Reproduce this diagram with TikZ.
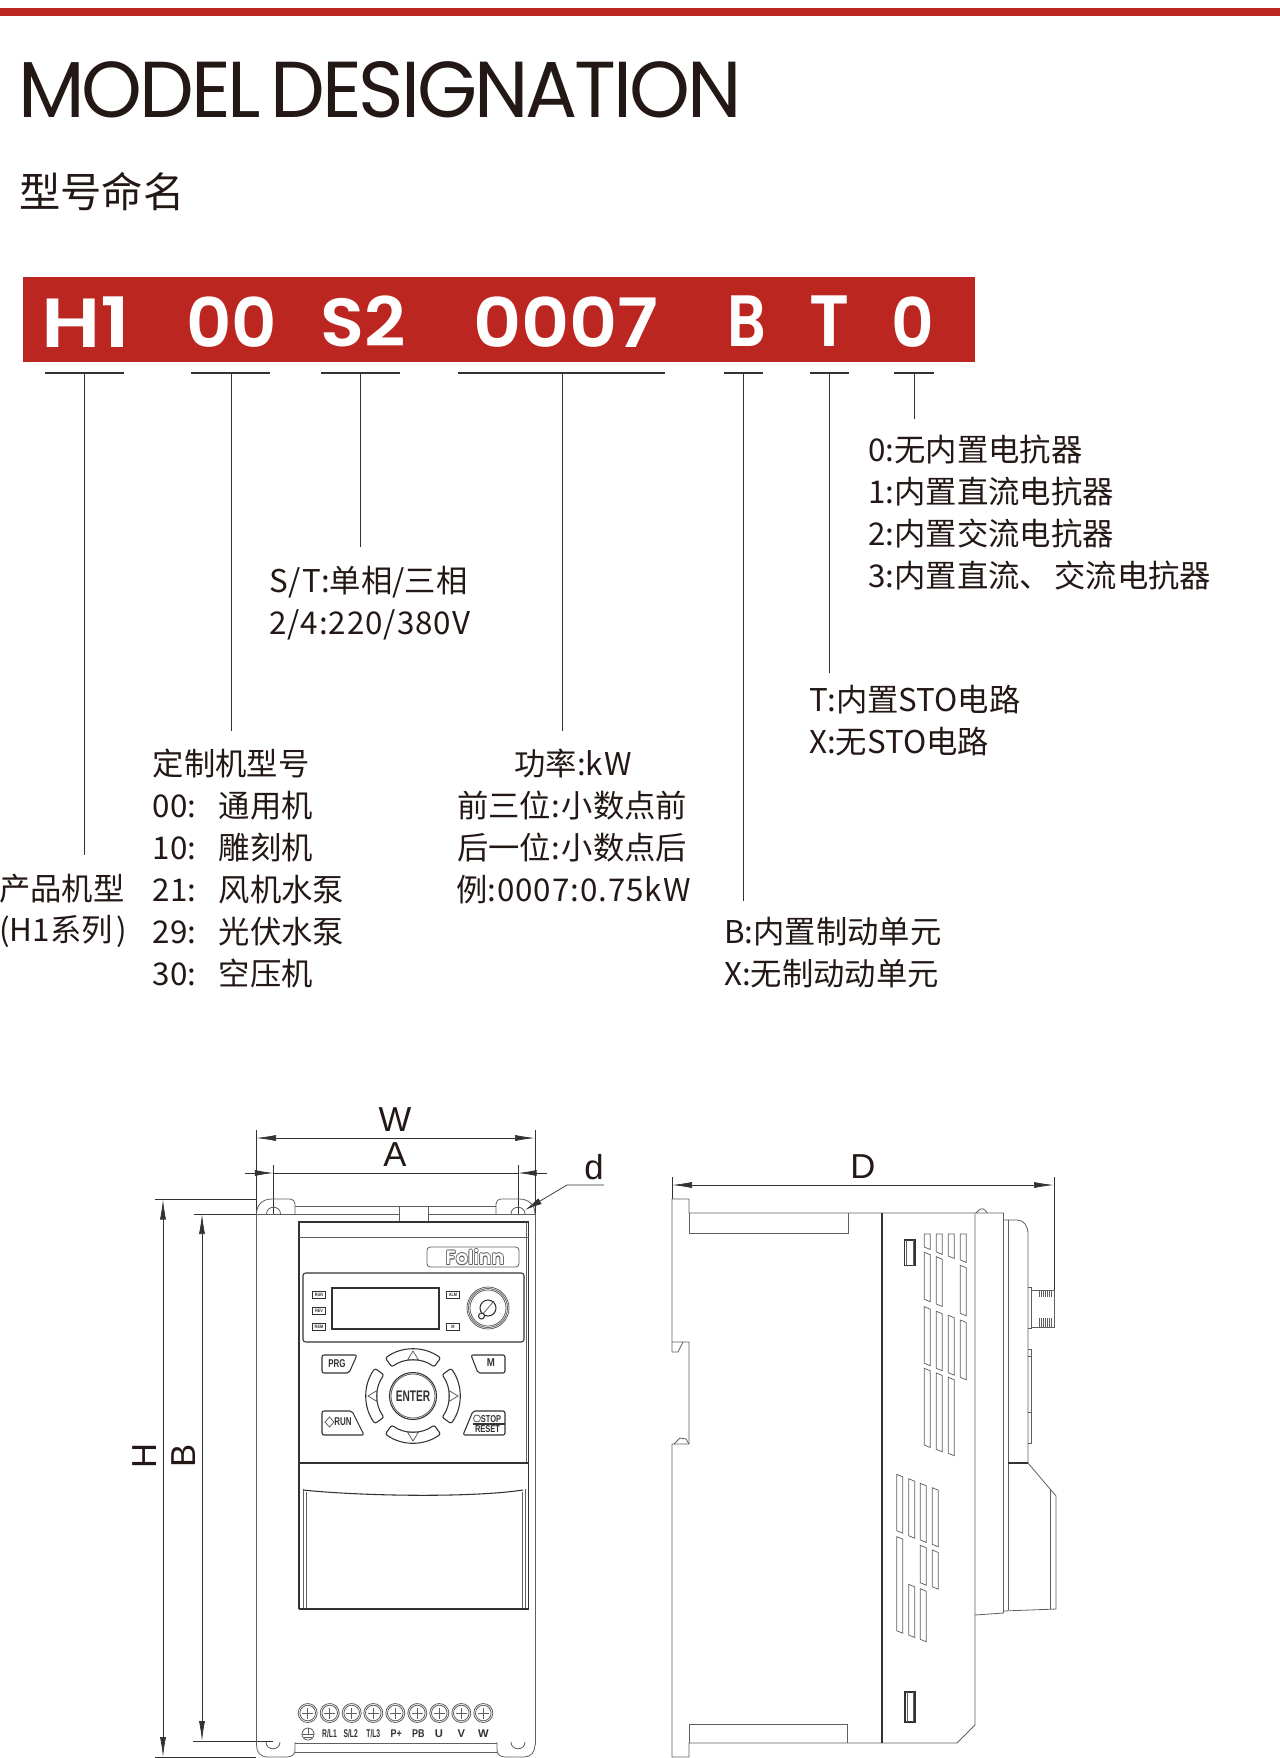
\documentclass[tikz,border=0pt]{standalone}
\usepackage{fontspec}
\usepackage{graphicx}
\setmainfont{Noto Sans CJK SC}
\newfontfamily\lat[LetterSpace=3]{Noto Sans CJK SC}
\newfontfamily\titlefont[LetterSpace=-4]{Poppins}
\newfontfamily\boldfont[UprightFont=* SemiBold]{Poppins}
\newfontfamily\dimfont{Liberation Sans}
\usetikzlibrary{arrows.meta}
\definecolor{brandred}{RGB}{187,38,32}
\definecolor{inkc}{RGB}{35,24,21}
\definecolor{linec}{RGB}{95,95,95}
\definecolor{darkc}{RGB}{50,50,50}
\newcommand{\nar}[2][0.7]{\scalebox{#1}[1]{#2}}
\tikzset{
  lbl/.style={anchor=base west,inner sep=0pt,font=\fontsize{23.5pt}{28pt}\selectfont,text=inkc},
  lblc/.style={anchor=base,inner sep=0pt,font=\fontsize{23.5pt}{28pt}\selectfont,text=inkc},
  redtxt/.style={anchor=base west,inner sep=0pt,text=white},
  leader/.style={draw=darkc,line width=0.75pt},
  under/.style={draw=darkc,line width=1.1pt},
  dimline/.style={draw=darkc,line width=0.55pt},
  dimarrow/.style={dimline,{Latex[length=15pt,width=4.5pt]}-{Latex[length=15pt,width=4.5pt]}},
  dimtxt/.style={inner sep=0pt,font=\dimfont\fontsize{26pt}{30pt}\selectfont,text=inkc},
  thin/.style={draw=linec,line width=0.6pt},
  med/.style={draw=darkc,line width=0.8pt},
  slot/.style={draw=linec,line width=0.55pt},
  tiny/.style={inner sep=0pt,font=\dimfont\bfseries\fontsize{8.4pt}{9pt}\selectfont,text=darkc},
  keytxt/.style={inner sep=0pt,font=\dimfont\bfseries\fontsize{8.5pt}{9pt}\selectfont,text=darkc},
  smalltxt/.style={inner sep=0pt,font=\dimfont\bfseries\fontsize{7.5pt}{8pt}\selectfont,text=darkc},
  ledbox/.style={draw=darkc,line width=0.6pt,minimum width=9.5pt,minimum height=4.8pt,inner sep=0pt,font=\dimfont\bfseries\fontsize{3.6pt}{4pt}\selectfont,text=darkc},
}
\begin{document}
\begin{tikzpicture}[x=0.75pt,y=-0.75pt]
\useasboundingbox (0,0) rectangle (1280,1758);
% top bar and headings
\fill[brandred] (0,8) rectangle (1280,16);
\node[anchor=base west,inner sep=0pt,text=inkc] (title) at (18,118) {\resizebox{542pt}{42pt}{\titlefont MODEL\hspace{.12em}DESIGNATION}};
\node[anchor=base west,inner sep=0pt,text=inkc,font=\fontsize{31pt}{34pt}\selectfont] (subtitle) at (19,208) {型号命名};
% red band
\node[fill=brandred,inner sep=0pt,anchor=north west,minimum width=714pt,minimum height=64pt] (band) at (22.5,276.5) {};
\node[redtxt] (c1) at (41,347) {\resizebox{67pt}{38pt}{\boldfont H1}};
\node[redtxt] (c2) at (186,347) {\resizebox{68pt}{38pt}{\boldfont 00}};
\node[redtxt] (c3) at (320,347) {\resizebox{64pt}{38pt}{\boldfont S2}};
\node[redtxt] (c4) at (473,347) {\resizebox{139pt}{38pt}{\boldfont 0007}};
\node[redtxt] (c5) at (727,347) {\resizebox{29pt}{38pt}{\boldfont B}};
\node[redtxt] (c6) at (809,347) {\resizebox{30pt}{38pt}{\boldfont T}};
\node[redtxt] (c7) at (891,347) {\resizebox{32pt}{38pt}{\boldfont 0}};
% brackets
\coordinate (u1a) at (45,373); \coordinate (u1b) at (124,373); \coordinate (u1m) at (84.5,373); \coordinate (u1e) at (84.5,855);
\coordinate (u2a) at (191,373); \coordinate (u2b) at (270,373); \coordinate (u2m) at (231,373); \coordinate (u2e) at (231,731);
\coordinate (u3a) at (321,373); \coordinate (u3b) at (400,373); \coordinate (u3m) at (360.5,373); \coordinate (u3e) at (360.5,547);
\coordinate (u4a) at (458,373); \coordinate (u4b) at (665,373); \coordinate (u4m) at (562,373); \coordinate (u4e) at (562,731);
\coordinate (u5a) at (724,373); \coordinate (u5b) at (763,373); \coordinate (u5m) at (743,373); \coordinate (u5e) at (743,901);
\coordinate (u6a) at (810,373); \coordinate (u6b) at (849,373); \coordinate (u6m) at (829,373); \coordinate (u6e) at (829,673);
\coordinate (u7a) at (894,373); \coordinate (u7b) at (934,373); \coordinate (u7m) at (914,373); \coordinate (u7e) at (914,419);
\foreach \n in {1,...,7}{
  \draw[under] (u\n a) -- (u\n b);
  \draw[leader] (u\n m) -- (u\n e);
}
% labels
\node[lbl] (a1) at (868,461) {0:无内置电抗器};
\node[lbl] (a2) at (868,503) {1:内置直流电抗器};
\node[lbl] (a3) at (868,545) {2:内置交流电抗器};
\node[lbl] (a4) at (868,587) {3:内置直流、\hspace{2.5pt}交流电抗器};
\node[lbl] (b1) at (269,592) {{\lat S/T:}单相{\lat /}三相};
\node[lbl] (b2) at (269,634) {{\lat 2/4:220/380V}};
\node[lbl] (d1) at (809,711) {T:内置STO电路};
\node[lbl] (d2) at (809,753) {X:无STO电路};
\node[lbl] (e0) at (152.5,775) {定制机型号};
\node[lbl] (e1) at (152.5,817) {00:};
\node[lbl] (e2) at (152.5,859) {10:};
\node[lbl] (e3) at (152.5,901) {21:};
\node[lbl] (e4) at (152.5,943) {29:};
\node[lbl] (e5) at (152.5,985) {30:};
\node[lbl] (f1) at (218.5,817) {通用机};
\node[lbl] (f2) at (218.5,859) {雕刻机};
\node[lbl] (f3) at (218.5,901) {风机水泵};
\node[lbl] (f4) at (218.5,943) {光伏水泵};
\node[lbl] (f5) at (218.5,985) {空压机};
\node[lblc] (g0) at (573,775) {功率:{\lat kW}};
\node[lbl] (g1) at (457,817) {前三位{\lat :}\hspace{1.5pt}小数点前};
\node[lbl] (g2) at (457,859) {后一位{\lat :}\hspace{1.5pt}小数点后};
\node[lbl] (g3) at (456,901) {例{\lat :0007:0.75kW}};
\node[lbl] (h1) at (724,943) {B:内置制动单元};
\node[lbl] (h2) at (724,985) {X:无制动动单元};
\node[lbl] (i1) at (-1,900) {产品机型};
\node[lbl] (i2) at (-1,941) {(H1系列\hspace{3pt})};
% dimension lines, front
\coordinate (wl) at (256,1138); \coordinate (wr) at (535,1138);
\coordinate (wlb) at (256,1214); \coordinate (wrb) at (535,1214);
\coordinate (wlt) at (256,1130); \coordinate (wrt) at (535,1130);
\draw[dimline] (wlt) -- (wlb); \draw[dimline] (wrt) -- (wrb);
\draw[dimarrow] (wl) -- (wr);
\node[dimtxt] (wtxt) at (395,1120) {W};
\coordinate (al) at (273.5,1173); \coordinate (ar) at (518,1173);
\coordinate (alo) at (245,1173); \coordinate (aro) at (547,1173);
\coordinate (alt) at (273.5,1165); \coordinate (art) at (518,1165);
\coordinate (alb) at (273.5,1214); \coordinate (arb) at (518,1214);
\draw[dimline] (alt) -- (alb); \draw[dimline] (art) -- (arb);
\draw[dimline] (al) -- (ar);
\draw[dimline,-{Latex[length=14pt,width=4.5pt]}] (alo) -- (al);
\draw[dimline,-{Latex[length=14pt,width=4.5pt]}] (aro) -- (ar);
\node[dimtxt] (atxt) at (395,1155) {A};
\node[dimtxt] (dtxt) at (594,1167) {d};
\coordinate (d1p) at (604,1185); \coordinate (d2p) at (567,1185); \coordinate (d3p) at (525,1210);
\draw[dimline,-{Latex[length=13pt,width=5pt]}] (d1p) -- (d2p) -- (d3p);
\coordinate (ht) at (163,1199.5); \coordinate (hb) at (163,1757);
\coordinate (htl) at (155,1199); \coordinate (htr) at (256,1199);
\coordinate (hbl) at (155,1757); \coordinate (hbr) at (256,1757);
\draw[dimline] (htl) -- (htr); \draw[dimline] (hbl) -- (hbr);
\draw[dimarrow] (ht) -- (hb);
\node[dimtxt,rotate=90] (htxt) at (145,1456) {H};
\coordinate (bt) at (202,1214); \coordinate (bb) at (202,1741);
\coordinate (btl) at (194,1214); \coordinate (btr) at (256,1214);
\coordinate (bbl) at (193,1741); \coordinate (bbr) at (273,1741);
\draw[dimline] (btl) -- (btr); \draw[dimline] (bbl) -- (bbr);
\draw[dimarrow] (bt) -- (bb);
\node[dimtxt,rotate=90] (btxt) at (184,1456) {B};
% front body: top feet and tab
\draw[thin] (256.5,1214) .. controls (256.5,1205) and (262,1199) .. (272,1199) -- (290,1199) .. controls (293,1199) and (295,1201) .. (295,1204) -- (295,1214);
\draw[thin] (535,1214) .. controls (535,1205) and (529,1199) .. (519,1199) -- (501,1199) .. controls (498,1199) and (496,1201) .. (496,1204) -- (496,1214);
\draw[thin] (256.5,1214) -- (399,1214); \draw[thin] (428,1214) -- (535,1214);
\draw[thin] (295,1206) -- (399,1206) (428,1206) -- (496,1206);
\draw[thin] (399,1206) -- (428,1206) (399,1206) -- (399,1222) (428,1206) -- (428,1222);
\draw[thin] (266.5,1214) .. controls (266.5,1205) and (280.5,1205) .. (280.5,1214);
\draw[thin] (511,1214) .. controls (511,1205) and (525,1205) .. (525,1214);
% sides and bottom feet
\draw[thin] (256.5,1214) -- (256.5,1745);
\draw[thin] (535,1214) -- (535,1745);
\draw[thin] (256.5,1745) .. controls (256.5,1752) and (260,1757) .. (268,1757) -- (287,1757) .. controls (292,1757) and (295,1754) .. (295,1750) -- (295,1742);
\draw[thin] (535,1745) .. controls (535,1752) and (531,1757) .. (524,1757) -- (505,1757) .. controls (500,1757) and (497,1754) .. (497,1750) -- (497,1742);
\draw[thin] (266,1742) .. controls (266,1751) and (280,1751) .. (280,1742);
\draw[thin] (511,1742) .. controls (511,1751) and (525,1751) .. (525,1742);
\draw[thin] (295,1743) -- (497,1743) (295,1752) -- (497,1752);
% panel
\draw[med] (299,1609) -- (299,1222) -- (528.5,1222) -- (528.5,1609);
\draw[thin] (526.5,1222) -- (526.5,1463);
\draw[thin] (299,1237) -- (528.5,1237);
\draw[med] (299,1463) -- (528.5,1463);
\draw[med] (303,1490) .. controls (360,1496) and (470,1498) .. (523,1490);
\draw[thin] (303,1489) -- (303,1609) (306,1492) -- (306,1609) (522,1492) -- (522,1609) (525,1489) -- (525,1609);
\draw[darkc,line width=1.5pt] (299,1609) -- (528.5,1609);
\draw[thin,rounded corners=2.5pt] (427,1247) rectangle (519,1267);
\foreach \i/\dx/\dy in {a/-0.7/0,b/0.7/0,c/0/-0.7,d/0/0.7,e/-0.5/-0.5,f/0.5/-0.5,g/-0.5/0.5,h/0.5/0.5}{
  \node[inner sep=0pt,font=\boldfont\fontsize{14.5pt}{16pt}\selectfont,text=linec] (logo\i) at (475+\dx,1257+\dy) {Folinn};
}
\node[inner sep=0pt,font=\boldfont\fontsize{14.5pt}{16pt}\selectfont,text=white] (logo) at (475,1257) {Folinn};
\draw[med,rounded corners=2pt] (303,1273) rectangle (524,1342);
\draw[med] (332,1288) rectangle (439,1329);
\node[ledbox] (l1) at (319,1295) {\nar[0.8]{RUN}};
\node[ledbox] (l2) at (319,1311) {\nar[0.8]{REV}};
\node[ledbox] (l3) at (319,1327) {\nar[0.8]{REM}};
\node[ledbox] (l4) at (453,1295) {\nar[0.8]{ALM}};
\node[ledbox] (l5) at (453,1327) {\nar[0.8]{M}};
\foreach \r in {21,19.5,18}{\draw[thin] (488,1308) circle[radius=\r];}
\draw[med] (488,1308) circle[radius=8];
\draw[thin] (482,1315) -- (494,1301);
\draw[med,fill=white] (481.5,1316) circle[radius=3];
% keys
\draw[med,rounded corners=1.5pt] (322,1355) -- (357,1355) -- (349,1373) -- (322,1373) -- cycle;
\draw[med,rounded corners=1.5pt] (471,1355) -- (505,1355) -- (505,1373) -- (478,1373) -- cycle;
\draw[med,rounded corners=1.5pt] (322,1411) -- (352,1411) -- (364,1435) -- (322,1435) -- cycle;
\draw[med,rounded corners=1.5pt] (473,1411) -- (505,1411) -- (505,1435) -- (463,1435) -- cycle;
\node[keytxt] (kprg) at (337,1364) {\nar{PRG}};
\node[keytxt] (km) at (491,1363) {\nar[0.85]{M}};
\node[keytxt] (krun) at (343,1422) {\nar{RUN}};
\draw[thin] (325,1422) -- (329.5,1417) -- (334,1422) -- (329.5,1427) -- cycle;
\node[smalltxt] (kstop) at (491,1419) {\nar[0.75]{STOP}};
\node[smalltxt] (kreset) at (487.5,1429) {\nar[0.75]{RESET}};
\draw[med] (473,1424) -- (505,1424);
\draw[thin] (477,1418.5) circle[radius=3.5];
\draw[med] (413,1396) circle[radius=23.5];
\draw[thin] (413,1396) circle[radius=22];
\node[keytxt,font=\dimfont\bfseries\fontsize{11.5pt}{13pt}\selectfont] (kenter) at (413,1396) {\nar[0.66]{ENTER}};
\foreach \ang in {90,180,270,0}{
  \draw[med,rounded corners=1.5pt]
    ({413+47*cos(\ang-36)},{1396-47*sin(\ang-36)})
    arc[start angle=-(\ang-36),end angle=-(\ang+36),radius=47]
    -- ({413+36*cos(\ang+36)},{1396-36*sin(\ang+36)})
    arc[start angle=-(\ang+36),end angle=-(\ang-36),radius=36] -- cycle;
  \draw[thin] ({413+45*cos(\ang)},{1396-45*sin(\ang)})
    -- ({413+36*cos(\ang)-5.5*sin(\ang)},{1396-36*sin(\ang)-5.5*cos(\ang)})
    -- ({413+36*cos(\ang)+5.5*sin(\ang)},{1396-36*sin(\ang)+5.5*cos(\ang)}) -- cycle;
}
% terminals
\foreach \tx in {307.7,329.7,351.7,373.3,395.3,417.3,439.3,461.3,483.3}{
  \draw[thin] (\tx,1713) circle[radius=9.5];
  \draw[thin] (\tx,1713) circle[radius=7.8];
  \draw[thin] (\tx-5.5,1713) -- (\tx+5.5,1713) (\tx,1707.5) -- (\tx,1718.5);
}
\node[tiny] (t2) at (329.5,1734) {\nar[0.6]{R/L1}};
\node[tiny] (t3) at (350.7,1734) {\nar[0.6]{S/L2}};
\node[tiny] (t4) at (373.3,1734) {\nar[0.6]{T/L3}};
\node[tiny] (t5) at (396.3,1734) {\nar[0.8]{P+}};
\node[tiny] (t6) at (418.3,1734) {\nar[0.8]{PB}};
\node[tiny] (t7) at (439,1734) {U};
\node[tiny] (t8) at (461.3,1734) {V};
\node[tiny] (t9) at (483.3,1734) {W};
\draw[thin] (308,1734) circle[radius=6];
\draw[thin] (302,1734) -- (314,1734) (308,1728) -- (308,1734) (304,1737) -- (312,1737);
% side dim
\coordinate (dl) at (672,1185); \coordinate (dr) at (1054,1185);
\coordinate (dlt) at (672,1177); \coordinate (dlb) at (672,1199);
\coordinate (drt) at (1054,1177); \coordinate (drb) at (1054,1290);
\draw[dimline] (dlt) -- (dlb); \draw[dimline] (drt) -- (drb);
\draw[dimarrow] (dl) -- (dr);
\node[dimtxt] (dimD) at (863,1167) {D};
% side body
\draw[thin] (672,1352) -- (672,1199) -- (689,1199) -- (689,1213) -- (1003.5,1213) -- (1003.5,1613) -- (975,1615);
\draw[thin] (672,1342) -- (689,1342) -- (689,1444) -- (672,1444) -- (672,1757) -- (689,1757) -- (689,1743) -- (957,1743) -- (975,1725) -- (975,1213);
\draw[thin] (672,1352) -- (678,1352) -- (683,1342);
\draw[thin] (674,1444) -- (680,1438) -- (686,1439) -- (689,1444);
\draw[thin] (689,1213) -- (689,1233) -- (848,1233) -- (848,1213);
\draw[thin] (689,1743) -- (689,1724) -- (847,1724) -- (847,1743);
\draw[med] (882,1213) -- (882,1743);
\draw[thin] (976,1213) -- (979,1210) .. controls (981,1208) and (985,1208) .. (987,1213);
% front panel side
\draw[thin] (1003.5,1220) -- (1017,1220) .. controls (1024,1220) and (1028,1226) .. (1028,1234) -- (1028,1463);
\draw[thin] (1008,1220) -- (1008,1610);
\draw[med] (1008,1463) -- (1028,1463);
\draw[thin] (1028,1463) -- (1056,1496) -- (1056,1609) -- (1003.5,1611);
\draw[thin] (1050,1490) -- (1050,1609);
\draw[thin] (1028,1287) -- (1031,1287) -- (1031,1328) -- (1028,1328);
\draw[thin] (1031,1290) -- (1054,1290) -- (1054,1327) -- (1031,1327) -- cycle;
\foreach \xx in {1039,1041,1043,1045,1047,1049,1051}{\draw[draw=linec,line width=0.4pt] (\xx,1290) -- (\xx,1297) (\xx,1318) -- (\xx,1327);}
\draw[thin] (1028,1349) -- (1031.5,1349) -- (1031.5,1443) -- (1028,1443) (1028,1356) -- (1031.5,1356) (1028,1412) -- (1031.5,1412);
% windows
\draw[med] (904.5,1240) rectangle (915,1265.5);
\draw[thin] (906.5,1240) -- (906.5,1265.5) (913,1240) -- (913,1265.5);
\draw[med] (905,1692) rectangle (915,1722);
\draw[thin] (907,1692) -- (907,1722) (913,1692) -- (913,1722);
% vent slots, first group
\foreach \xl/\yt/\yb in {924.3/1234/1247,936.3/1234/1252,948.3/1234/1256,960.3/1234/1260}{
  \draw[slot] (\xl,\yt) -- (\xl+6,\yt) -- (\xl+6,\yb+2.5) -- (\xl,\yb) -- cycle;
}
\foreach \xl/\yt/\yb in {924.3/1252.3/1299.3,924.3/1306.7/1363.3,924.3/1368.3/1445,
  936.3/1256.7/1304,936.3/1311.3/1368.3,936.3/1373/1449.3,
  948.3/1315.3/1372.7,948.3/1377.3/1453.3,
  960.3/1265.3/1313.3,960.3/1320/1377.3}{
  \draw[slot] (\xl,\yt) -- (\xl+6,\yt+2.5) -- (\xl+6,\yb+2.5) -- (\xl,\yb) -- cycle;
}
% vent slots, second group
\foreach \xl/\yt/\yb in {896.7/1474.3/1530.7,896.7/1536.7/1630.7,
  908.7/1478.7/1535.7,908.7/1584.3/1635,
  920.3/1483.3/1540,920.3/1545.3/1582.7,920.3/1588.7/1639.3,
  932.3/1487.7/1544.3,932.3/1550/1586.7}{
  \draw[slot] (\xl,\yt) -- (\xl+6,\yt+2.5) -- (\xl+6,\yb+2.5) -- (\xl,\yb) -- cycle;
}
\end{tikzpicture}
\end{document}
